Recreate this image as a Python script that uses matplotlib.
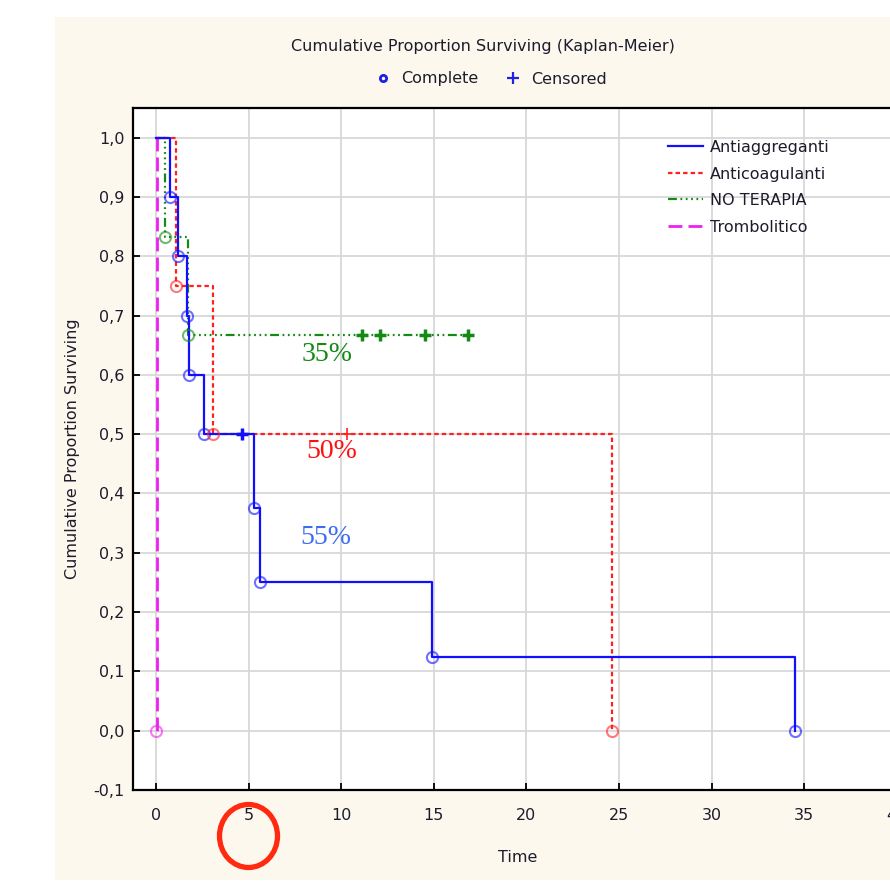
import matplotlib
matplotlib.use("Agg")
import matplotlib.pyplot as plt
from matplotlib.lines import Line2D
from matplotlib.patches import Rectangle, Ellipse

# ---------------- data ----------------
anti_times = [0.0, 0.75, 1.2, 1.65, 1.8, 2.6, 5.3, 5.6, 14.9, 34.5]
anti_surv = [1.0, 0.9, 0.8, 0.7, 0.6, 0.5, 0.375, 0.25, 0.125, 0.0]
anti_cens_t = [4.65]
anti_cens_s = [0.5]

coag_times = [0.0, 1.1, 3.1, 24.6]
coag_surv = [1.0, 0.75, 0.5, 0.0]
coag_cens_t = [10.3]
coag_cens_s = [0.5]

note_times = [0.0, 0.48, 1.75]
note_surv = [1.0, 0.8333, 0.6667]
note_end = 16.85
note_cens_t = [11.15, 12.1, 14.5, 16.85]
note_cens_s = [0.6667, 0.6667, 0.6667, 0.6667]

tromb_times = [0.0, 0.05]
tromb_surv = [1.0, 0.0]

series_labels = ["Antiaggreganti", "Anticoagulanti", "NO TERAPIA", "Trombolitico"]
pct_labels = ["35%", "50%", "55%"]
pct_pos = [(9.25, 0.635), (9.5, 0.47), (9.15, 0.325)]

x_ticks = [0, 5, 10, 15, 20, 25, 30, 35, 40]
y_ticks = [-0.1, 0.0, 0.1, 0.2, 0.3, 0.4, 0.5, 0.6, 0.7, 0.8, 0.9, 1.0]
y_ticklabels = ["-0,1", "0,0", "0,1", "0,2", "0,3", "0,4", "0,5", "0,6", "0,7", "0,8", "0,9", "1,0"]

# ---------------- styling ----------------
plt.rcParams["font.family"] = ["DejaVu Sans"]
txt_col = "#1c1c2c"

W, H = 890, 884
fig = plt.figure(figsize=(W / 100, H / 100), dpi=100, facecolor="white")
fig.add_artist(Rectangle((55 / W, 4 / H), 1.0, (880 - 17) / H, transform=fig.transFigure,
                         facecolor="#fdf8ed", edgecolor="none", zorder=-10))

scale = 18.52  # px per time unit
x0, x1 = -1.24, 41.0
ax_left, ax_bottom = 133 / W, (H - 790) / H
ax_w, ax_h = (x1 - x0) * scale / W, 682 / H
ax = fig.add_axes([ax_left, ax_bottom, ax_w, ax_h])
ax.set_facecolor("white")
ax.set_xlim(x0, x1)
ax.set_ylim(-0.1, 1.05)

ax.set_xticks(x_ticks)
ax.set_xticklabels([str(v) for v in x_ticks])
ax.set_yticks(y_ticks)
ax.set_yticklabels(y_ticklabels)
ax.tick_params(direction="in", length=5, width=1.3, colors="black", labelcolor=txt_col,
               labelsize=11.5)
ax.tick_params(axis="x", pad=13)
ax.tick_params(axis="y", pad=6)
ax.grid(True, color="#d8d8d8", linewidth=1.3)
ax.set_axisbelow(True)
for s in ax.spines.values():
    s.set_linewidth(1.6)
    s.set_color("black")

ax_w_px = (x1 - x0) * scale
ax.set_ylabel("Cumulative Proportion Surviving", fontsize=11.5, color=txt_col)
ax.yaxis.set_label_coords(-53 / ax_w_px, 0.5)
ax.set_xlabel("Time", fontsize=11.5, color=txt_col)
ax.xaxis.set_label_coords((518 - 133) / ax_w_px, -0.088)


def km_path(times, surv, end=None):
    xs, ys = [times[0]], [surv[0]]
    for i in range(1, len(times)):
        xs += [times[i], times[i]]
        ys += [surv[i - 1], surv[i]]
    if end is not None:
        xs.append(end)
        ys.append(surv[-1])
    return xs, ys


blue = "#1010ff"
red = "#ff2020"
green = "#138a13"
magenta = "#f020f0"

green_dash = (0, (4, 1.6, 0.8, 1.6, 0.8, 1.6, 0.8, 1.6, 0.8, 1.6, 0.8, 1.6, 0.8, 1.6))

x, y = km_path(tromb_times, tromb_surv)
ax.plot(x, y, color=magenta, lw=2, linestyle=(0, (5, 2.2)), zorder=3)
x, y = km_path(note_times, note_surv, note_end)
ax.plot(x, y, color=green, lw=1.6, linestyle=green_dash, zorder=3)
x, y = km_path(coag_times, coag_surv)
ax.plot(x, y, color=red, lw=1.6, linestyle=(0, (2, 1.4)), zorder=3)
x, y = km_path(anti_times, anti_surv)
ax.plot(x, y, color=blue, lw=1.6, linestyle="-", zorder=4)

mk = dict(marker="o", linestyle="none", markersize=8, markerfacecolor="none",
          markeredgewidth=1.5, alpha=0.6, zorder=5)
ax.plot(anti_times[1:], anti_surv[1:], color=blue, **mk)
ax.plot(coag_times[1:], coag_surv[1:], color=red, **mk)
ax.plot(note_times[1:], note_surv[1:], color=green, **mk)
ax.plot([tromb_times[0]], [tromb_surv[-1]], color=magenta, **mk)

ck = dict(marker="+", linestyle="none", markersize=9, markeredgewidth=2.5, zorder=6)
ax.plot(anti_cens_t, anti_cens_s, color=blue, **ck)
ax.plot(coag_cens_t, coag_cens_s, color=red, markersize=9, markeredgewidth=1.2,
        marker="+", linestyle="none", zorder=6)
ax.plot(note_cens_t, note_cens_s, color=green, **ck)

pct_colors = [green, "#ff1010", "#3d6cf2"]
for lab, (px, py), c in zip(pct_labels, pct_pos, pct_colors):
    ax.text(px, py, lab, color=c, fontsize=20, ha="center", va="center",
            family=["Liberation Serif", "DejaVu Serif"], zorder=7)

# right legend
handles = [
    Line2D([], [], color=blue, lw=1.6, linestyle="-"),
    Line2D([], [], color=red, lw=1.6, linestyle=(0, (2, 1.4))),
    Line2D([], [], color=green, lw=1.6, linestyle=green_dash),
    Line2D([], [], color=magenta, lw=2, linestyle=(0, (5, 2.2))),
]
fig.legend(handles, series_labels, loc="upper left",
           bbox_to_anchor=(668 / W, 1 - 140 / H), bbox_transform=fig.transFigure,
           frameon=False, fontsize=11.5, handlelength=2.2, handletextpad=0.45,
           labelspacing=0.72, borderpad=0, borderaxespad=0, labelcolor=txt_col)

# top title + marker legend
fig.text(483 / W, 1 - 47 / H, "Cumulative Proportion Surviving (Kaplan-Meier)",
         ha="center", va="center", fontsize=11.5, color=txt_col)
top_handles = [
    Line2D([], [], color="#2020e0", marker="o", linestyle="none", markersize=4.5,
           markerfacecolor="none", markeredgewidth=2),
    Line2D([], [], color="#2020e0", marker="+", linestyle="none", markersize=8,
           markeredgewidth=1.6),
]
fig.legend(top_handles, ["Complete", "Censored"], loc="center", ncol=2,
           bbox_to_anchor=(490 / W, 1 - 79 / H), bbox_transform=fig.transFigure,
           frameon=False, fontsize=11.5, handlelength=1.2, handletextpad=0.5,
           columnspacing=1.6, labelcolor=txt_col)

# red highlight circle
fig.add_artist(Ellipse((248.5 / W, (H - 836) / H), 58 / W, 63 / H,
                       transform=fig.transFigure, facecolor="none",
                       edgecolor="#ff2a10", linewidth=3.8, zorder=20))

fig.savefig("out.png", dpi=100, facecolor="white")
